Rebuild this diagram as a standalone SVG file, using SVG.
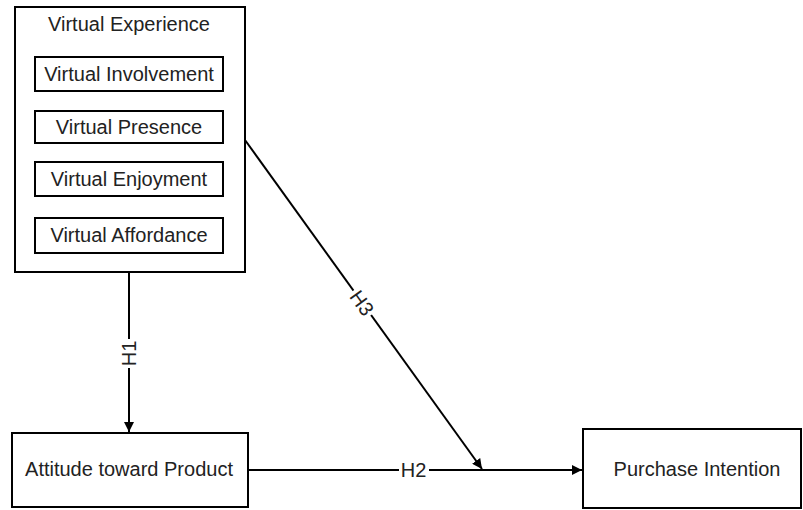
<svg xmlns="http://www.w3.org/2000/svg" width="803" height="510" viewBox="0 0 803 510">
<style>
.box{fill:#fff;stroke:#000;stroke-width:2}
.t{font-family:"Liberation Sans",Arial,sans-serif;font-size:20px;fill:#222;text-anchor:middle}
.c{stroke:#000;stroke-width:2;fill:none}
.lbl{font-family:"Liberation Sans",Arial,sans-serif;font-size:20px;fill:#222;text-anchor:middle}
</style>
<defs>
<marker id="arr" markerWidth="10" markerHeight="10" refX="10" refY="5" orient="auto" markerUnits="userSpaceOnUse">
<path d="M0,0 L10,5 L0,10 Z" fill="#000"/>
</marker>
</defs>
<rect width="803" height="510" fill="#fff"/>
<g id="virtual-experience">
<rect class="box" x="15" y="7" width="230" height="265"/>
<text class="t" x="129" y="31">Virtual Experience</text>
</g>
<g id="virtual-involvement">
<rect class="box" x="35" y="57" width="188" height="34"/>
<text class="t" x="129" y="81">Virtual Involvement</text>
</g>
<g id="virtual-presence">
<rect class="box" x="35" y="111" width="188" height="32"/>
<text class="t" x="129" y="134">Virtual Presence</text>
</g>
<g id="virtual-enjoyment">
<rect class="box" x="35" y="162" width="188" height="34"/>
<text class="t" x="129" y="186">Virtual Enjoyment</text>
</g>
<g id="virtual-affordance">
<rect class="box" x="35" y="218" width="188" height="35"/>
<text class="t" x="129" y="242">Virtual Affordance</text>
</g>
<g id="attitude">
<rect class="box" x="12" y="433" width="236" height="74"/>
<text class="t" x="129" y="476">Attitude toward Product</text>
</g>
<g id="purchase-intention">
<rect class="box" x="583" y="429" width="218" height="79"/>
<text class="t" x="697" y="476">Purchase Intention</text>
</g>
<g id="connectors">
<line class="c" x1="129" y1="272" x2="129" y2="432" marker-end="url(#arr)"/>
<line class="c" x1="248" y1="470" x2="582" y2="470" marker-end="url(#arr)"/>
<line class="c" x1="245" y1="140" x2="482" y2="469" marker-end="url(#arr)"/>
<rect x="119" y="339" width="20" height="29" fill="#fff"/>
<text class="lbl" transform="translate(136,353.5) rotate(-90)">H1</text>
<rect x="399" y="460" width="30" height="20" fill="#fff"/>
<text class="lbl" x="413.5" y="477">H2</text>
<g transform="translate(362,303) rotate(54.2)">
<rect x="-15" y="-9" width="30" height="18" fill="#fff"/>
<text class="lbl" x="0" y="7">H3</text>
</g>
</g>
</svg>
